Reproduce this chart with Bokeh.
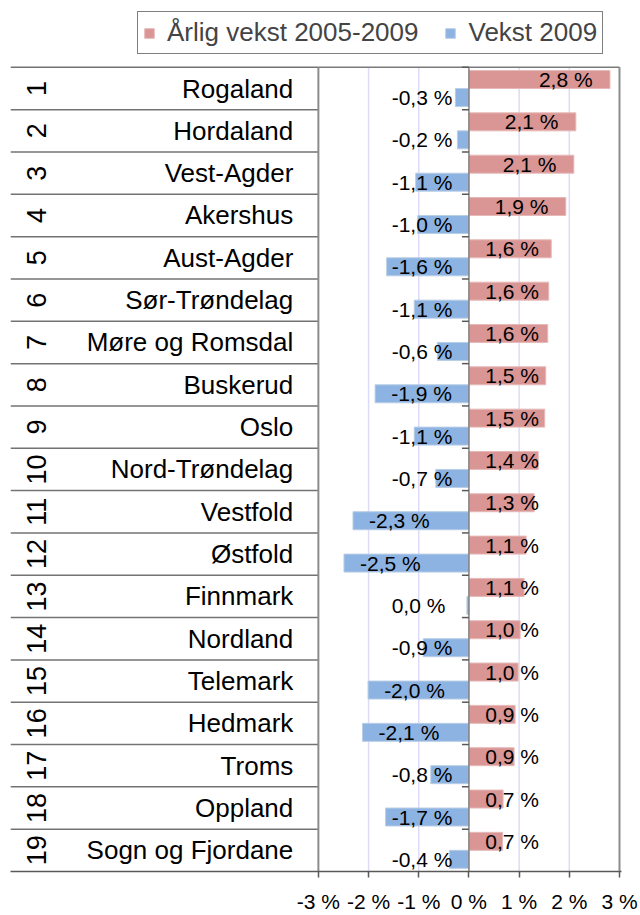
import math
from bokeh.plotting import figure
from bokeh.models import (Range1d, FixedTicker, PrintfTickFormatter, Legend,
                          LegendItem, ColumnDataSource)
from bokeh.core.properties import value
from bokeh.transform import dodge
from bokeh.embed import file_html
from bokeh.resources import INLINE

# ---- data ----
ranks = ["1", "2", "3", "4", "5", "6", "7", "8", "9", "10",
         "11", "12", "13", "14", "15", "16", "17", "18", "19"]
names = ["Rogaland", "Hordaland", "Vest-Agder", "Akershus", "Aust-Agder",
         "Sør-Trøndelag", "Møre og Romsdal", "Buskerud", "Oslo", "Nord-Trøndelag",
         "Vestfold", "Østfold", "Finnmark", "Nordland", "Telemark", "Hedmark",
         "Troms", "Oppland", "Sogn og Fjordane"]
annual_2005_2009 = [2.81, 2.13, 2.09, 1.93, 1.64, 1.59, 1.57, 1.53, 1.51, 1.38,
                    1.30, 1.14, 1.10, 1.02, 0.98, 0.92, 0.90, 0.68, 0.67]
growth_2009 = [-0.27, -0.23, -1.06, -1.02, -1.64, -1.09, -0.63, -1.87, -1.09, -0.66,
               -2.31, -2.49, -0.04, -0.91, -2.01, -2.12, -0.76, -1.66, -0.39]
x_ticks = [-3, -2, -1, 0, 1, 2, 3]
series_labels = ["Årlig vekst 2005-2009", "Vekst 2009"]

RED = "#D99694"
BLUE = "#8DB3E2"
FONT = "Liberation Sans"


def fmt(v):
    s = f"{abs(v):.1f}".replace(".", ",")
    if round(v, 1) < 0:
        s = "-" + s
    return s + " %"


n = len(names)
pos = [n - i for i in range(n)]
src = ColumnDataSource(dict(
    pos=pos,
    top=[q + 0.5 for q in pos],
    name=names,
    rank=ranks,
    annual=annual_2005_2009,
    growth=growth_2009,
    alab=[fmt(v) for v in annual_2005_2009],
    glab=[fmt(v) for v in growth_2009],
    alx=[max(v - 0.345, 1.394) for v in annual_2005_2009],
    glx=[min(v + 0.32, -1.54) for v in growth_2009],
))

X0 = -9.135
Y_BOT, Y_TOP = 0.5, n + 0.5
p = figure(width=640, height=915,
           x_range=Range1d(X0, 3.04), y_range=Range1d(Y_BOT, n + 2.08),
           output_backend="svg", toolbar_location=None,
           min_border_left=10, min_border_right=19,
           min_border_top=0, min_border_bottom=42,
           y_axis_location=None)
p.outline_line_color = None
p.grid.visible = False

ax = p.xaxis[0]
ax.ticker = FixedTicker(ticks=x_ticks)
ax.formatter = PrintfTickFormatter(format="%d %%")
ax.major_label_text_font = FONT
ax.major_label_text_font_size = "21px"
ax.major_label_text_color = "black"
ax.major_label_text_line_height = 1.0
ax.major_label_standoff = 12
ax.axis_line_color = "#595959"
ax.axis_line_width = 1.5
ax.major_tick_line_color = "#595959"
ax.major_tick_line_width = 1.5
ax.major_tick_in = 0
ax.major_tick_out = 6
ax.minor_tick_line_color = None

# vertical gridlines inside the plot area
grid_x = [t for t in x_ticks if abs(t) not in (0, 3)]
p.segment(x0=grid_x, x1=grid_x, y0=Y_BOT, y1=Y_TOP, line_color="#DCDCFA", line_width=1.5)

red = p.hbar(y=dodge("pos", 0.2125), left=0, right="annual", height=0.425,
             fill_color=RED, line_color="#E6B9B8", line_width=1, source=src)
blue = p.hbar(y=dodge("pos", -0.2125), left=0, right="growth", height=0.425,
              fill_color=BLUE, line_color="#B9CDE5", line_width=1, source=src)

# table of category labels
p.segment(x0=X0, x1=-3, y0="top", y1="top", line_color="#737373",
          line_width=1.5, source=src)
p.text(x=-3.5, y="pos", text="name", text_align="right", text_baseline="middle",
       text_font=value(FONT), text_font_size="26px", text_color="black", source=src)
p.text(x=-8.62, y="pos", text="rank", angle=math.pi / 2, text_align="center",
       text_baseline="middle", text_font=value(FONT), text_font_size="27px",
       text_color="black", source=src)

# plot area borders and zero axis
edges = [x_ticks[0], x_ticks[-1]]
p.segment(x0=edges, x1=edges, y0=Y_BOT, y1=Y_TOP, line_color="#8C8C8C", line_width=2)
p.segment(x0=edges[0], x1=edges[1], y0=Y_TOP, y1=Y_TOP, line_color="#7A7A7A", line_width=1.5)
p.segment(x0=0, x1=0, y0=Y_BOT, y1=Y_TOP, line_color="#808080", line_width=1.5)
p.ray(x=0, y="top", length=7, length_units="screen", angle=math.pi,
      line_color="#595959", line_width=1.5, source=src)

# data labels
p.text(x="alx", y=dodge("pos", 0.2125), text="alab", text_align="right",
       text_baseline="middle", text_font=value(FONT), text_font_size="21px",
       text_color="black", source=src)
p.text(x="glx", y=dodge("pos", -0.2125), text="glab", text_align="left",
       text_baseline="middle", text_font=value(FONT), text_font_size="21px",
       text_color="black", source=src)

legend = Legend(items=[LegendItem(label=series_labels[0], renderers=[red]),
                       LegendItem(label=series_labels[1], renderers=[blue])],
                orientation="horizontal", location=(127, 817))
legend.label_text_font = FONT
legend.label_text_font_size = "26px"
legend.glyph_width = 12
legend.glyph_height = 12
legend.label_standoff = 12
legend.spacing = 26
legend.padding = 5
legend.margin = 0
legend.border_line_color = "black"
legend.border_line_width = 1
legend.background_fill_alpha = 1.0
p.add_layout(legend)

open("out.html", "w").write(file_html(p, INLINE))
